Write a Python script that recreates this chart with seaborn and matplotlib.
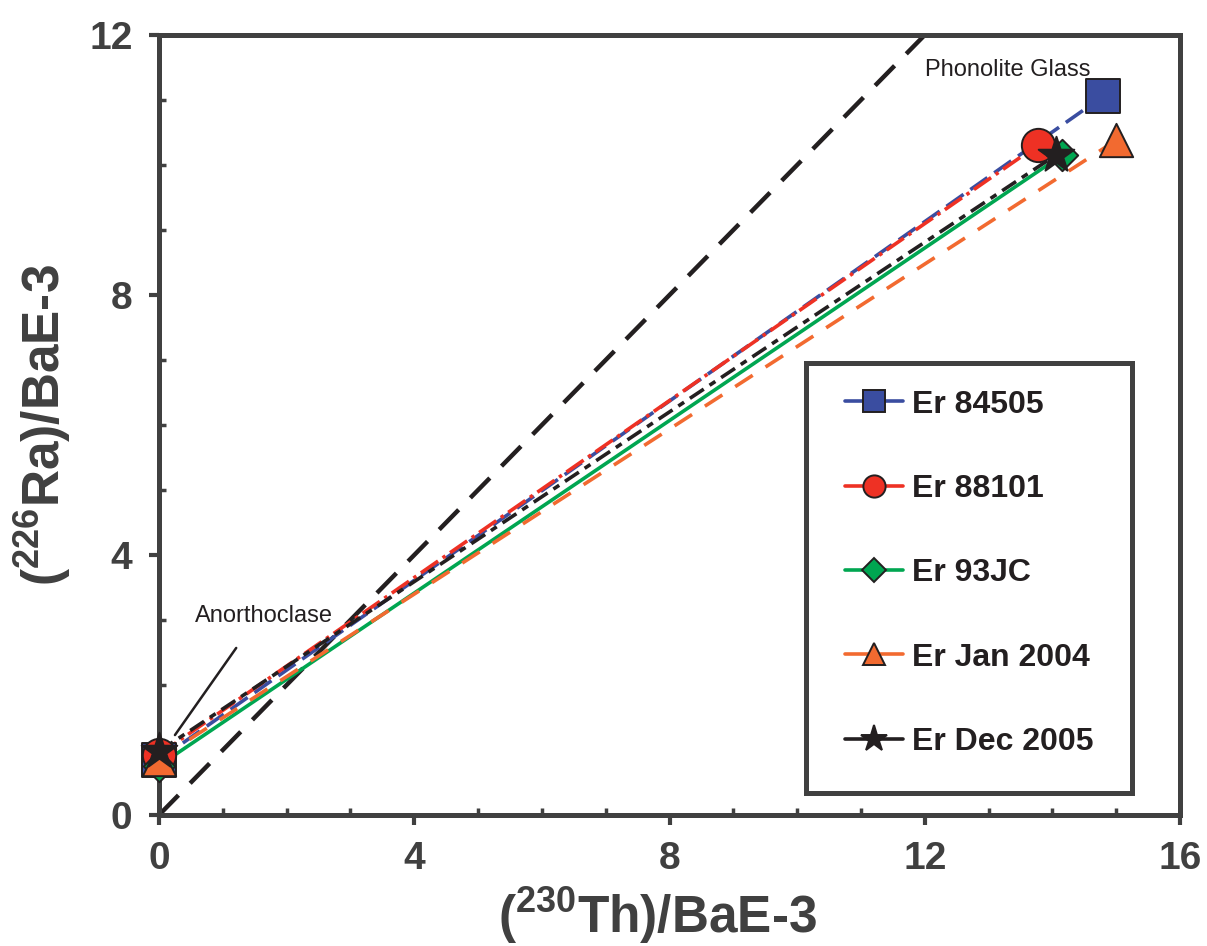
import matplotlib
matplotlib.use("Agg")
import matplotlib.pyplot as plt
from matplotlib.lines import Line2D
from matplotlib.patches import Rectangle
from matplotlib.ticker import MultipleLocator
import seaborn as sns
import pandas as pd

# Sample names
samples = ["Er 84505", "Er 88101", "Er 93JC", "Er Jan 2004", "Er Dec 2005"]
# Anorthoclase (230Th)/Ba and (226Ra)/Ba, x1e-3
anorth_th = [0.0, 0.0, 0.0, 0.0, 0.0]
anorth_ra = [0.85, 0.93, 0.76, 0.86, 0.98]
# Phonolite glass (230Th)/Ba and (226Ra)/Ba, x1e-3
glass_th = [14.8, 13.78, 14.15, 15.0, 14.05]
glass_ra = [11.06, 10.31, 10.15, 10.38, 10.15]
# Equiline
equi_th = [0.0, 16.0]
equi_ra = [0.0, 16.0]

x_ticks = [0, 4, 8, 12, 16]
y_ticks = [0, 4, 8, 12]

colors = ["#3a4da0", "#ee3124", "#00a651", "#f26a30", "#231f20"]
markers = ["s", "o", "D", "^", "*"]
msize = [24, 24, 16, 24, 27]
leg_msize = [16, 16, 12, 16, 20]
styles = [(0, (15, 6)), (0, (15, 4, 2.5, 4)), "-", (0, (15, 11)), (0, (12, 5, 5, 5))]
point_z = [5, 6, 6.5, 7, 8]

AX = "#404040"
INK = "#231f20"

sns.set_theme(style="white")
plt.rcParams["font.family"] = ["Liberation Sans", "DejaVu Sans"]
plt.rcParams["mathtext.fontset"] = "custom"
plt.rcParams["mathtext.rm"] = "Liberation Sans:bold"
plt.rcParams["mathtext.bf"] = "Liberation Sans:bold"
plt.rcParams["lines.scale_dashes"] = False

fig = plt.figure(figsize=(12.07, 9.46), dpi=100)
ax = fig.add_axes([159 / 1207, 1 - 815 / 946, (1180 - 159) / 1207, (815 - 35) / 946])

df = pd.DataFrame({
    "sample": samples,
    "anorth_th": anorth_th, "anorth_ra": anorth_ra,
    "glass_th": glass_th, "glass_ra": glass_ra,
})

# Equiline
sns.lineplot(x=equi_th, y=equi_ra, color=INK, lw=3.2, linestyle=(0, (20, 12)),
             ax=ax, sort=False, estimator=None, legend=False, zorder=2)

# Tie lines between anorthoclase and glass for each sample
for i, row in df.iterrows():
    sns.lineplot(x=[row.anorth_th, row.glass_th], y=[row.anorth_ra, row.glass_ra],
                 color=colors[i], lw=2.6, linestyle=styles[i], ax=ax, sort=False,
                 estimator=None, legend=False, zorder=3)

# Mineral and glass points
for i, row in df.iterrows():
    sns.scatterplot(x=[row.anorth_th, row.glass_th], y=[row.anorth_ra, row.glass_ra],
                    marker=markers[i], s=msize[i] ** 2, color=colors[i],
                    edgecolor=INK, linewidth=1.4, ax=ax, legend=False,
                    zorder=point_z[i], clip_on=False)

ax.set_xlim(0, 16)
ax.set_ylim(0, 12)
ax.set_xticks(x_ticks)
ax.set_yticks(y_ticks)
ax.xaxis.set_minor_locator(MultipleLocator(1))
ax.yaxis.set_minor_locator(MultipleLocator(1))
ax.tick_params(which="major", direction="out", length=7, width=3, color=AX,
               labelsize=28, labelcolor=AX, pad=12)
ax.tick_params(which="minor", direction="in", length=5, width=2.5, color=AX)
ax.tick_params(axis="both", which="both", bottom=True, left=True, top=False, right=False)
for lab in ax.get_xticklabels() + ax.get_yticklabels():
    lab.set_fontweight("bold")
for sp in ax.spines.values():
    sp.set_color(AX)
    sp.set_linewidth(3.6)

ax.set_xlabel(r"($^{230}$Th)/BaE-3", fontsize=37, fontweight="bold", color=AX, labelpad=6)
ax.xaxis.label.set_x(0.488)
ax.set_ylabel(r"($^{226}$Ra)/BaE-3", fontsize=37, fontweight="bold", color=AX, labelpad=12)

# Annotations
ax.text(12.0, 11.46, "Phonolite Glass", fontsize=17, color=INK, va="center", ha="left")
ax.text(0.56, 3.06, "Anorthoclase", fontsize=17, color=INK, va="center", ha="left")
ax.plot([0.25, 1.21], [1.23, 2.57], color=INK, lw=1.8, zorder=4)

# Legend box
box = Rectangle((0.634, 0.028), 0.319, 0.551, transform=ax.transAxes,
                facecolor="white", edgecolor=AX, lw=3.6, zorder=9)
ax.add_patch(box)
handles = [Line2D([0], [0], color=colors[i], lw=2.6, marker=markers[i],
                  markersize=leg_msize[i], markerfacecolor=colors[i],
                  markeredgecolor=INK, markeredgewidth=1.4)
           for i in range(len(samples))]
leg = ax.legend(handles, samples, loc="center", bbox_to_anchor=(0.794, 0.31),
                frameon=False, prop={"size": 23, "weight": "bold"},
                labelspacing=1.7, handlelength=1.8, handletextpad=0.3)
leg.set_zorder(10)
for t in leg.get_texts():
    t.set_color(INK)

fig.savefig("out.png", dpi=100)
